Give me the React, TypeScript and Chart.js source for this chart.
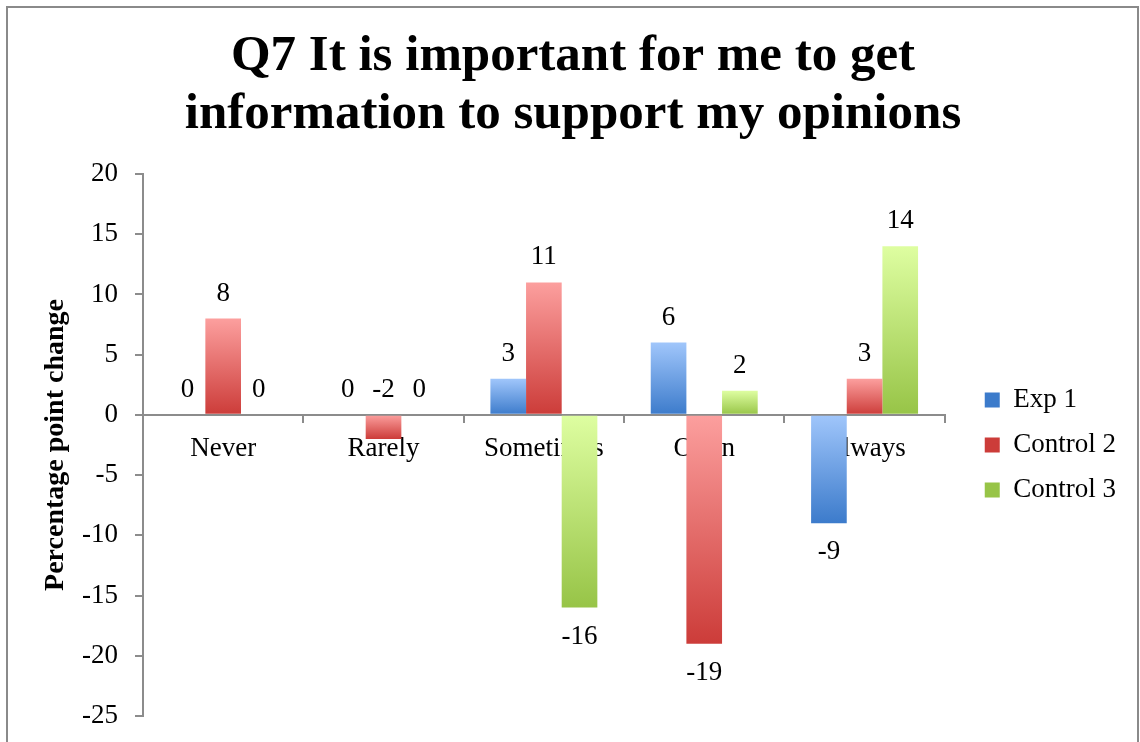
import React, { useEffect, useRef } from "react";
import { Chart, registerables } from "chart.js";

Chart.register(...registerables);

const TITLE_LINES = ["Q7 It is important for me to get", "information to support my opinions"];
const CATEGORIES = ["Never", "Rarely", "Sometimes", "Often", "Always"];
const SERIES_NAMES = ["Exp 1", "Control 2", "Control 3"];
const EXP1 = [0, 0, 3, 6, -9];
const CONTROL2 = [8, -2, 11, -19, 3];
const CONTROL3 = [0, 0, -16, 2, 14];
const Y_MIN = -25;
const Y_MAX = 20;
const Y_STEP = 5;
const Y_TITLE = "Percentage point change";

const FONT = "'Liberation Serif', 'Times New Roman', serif";
const AXIS_GREY = "#8c8c8c";
const TEXT_SIZE = 27;

const COLORS = [
  { light: "#a0c6fb", mid: "#6c9fe2", dark: "#3c7bcb" },
  { light: "#fc9f9e", mid: "#e4716f", dark: "#cc3c39" },
  { light: "#defea1", mid: "#bfe177", dark: "#97c447" },
];

function gradientFill(idx: number) {
  return (ctx: any) => {
    const c = COLORS[idx];
    if (ctx.type !== "data") return c.mid;
    const chart = ctx.chart;
    const yScale = chart.scales?.y;
    if (!chart.chartArea || !yScale) return c.mid;
    const v = ctx.parsed ? ctx.parsed.y : ctx.raw;
    const p0 = yScale.getPixelForValue(0);
    const p1 = yScale.getPixelForValue(v);
    const top = Math.min(p0, p1);
    const bot = Math.max(p0, p1);
    if (!isFinite(top) || !isFinite(bot) || bot - top < 1) return c.dark;
    const g = chart.ctx.createLinearGradient(0, top, 0, bot);
    g.addColorStop(0, c.light);
    g.addColorStop(1, c.dark);
    return g;
  };
}

const framePlugin = {
  id: "frame",
  beforeDraw(chart: any) {
    const ctx = chart.ctx;
    ctx.save();
    ctx.fillStyle = "#ffffff";
    ctx.fillRect(0, 0, chart.width, chart.height);
    ctx.strokeStyle = "#8a8a8a";
    ctx.lineWidth = 2;
    ctx.strokeRect(7, 7, chart.width - 9, chart.height + 40);
    ctx.restore();
  },
};

const valueLabelPlugin = {
  id: "valueLabels",
  afterDatasetsDraw(chart: any) {
    const ctx = chart.ctx;
    const zeroY = chart.scales.y.getPixelForValue(0);
    ctx.save();
    ctx.font = `${TEXT_SIZE}px ${FONT}`;
    ctx.fillStyle = "#000000";
    ctx.textAlign = "center";
    ctx.textBaseline = "middle";
    chart.data.datasets.forEach((ds: any, di: number) => {
      const meta = chart.getDatasetMeta(di);
      meta.data.forEach((el: any, i: number) => {
        const v = ds.data[i] as number;
        let y: number;
        if (v >= 0) {
          y = el.y - 25;
        } else if (el.y - zeroY < 45) {
          // short negative bar: label would collide with the category label, keep it above the axis
          y = zeroY - 25;
        } else {
          y = el.y + 29;
        }
        ctx.fillText(String(v), el.x, y);
      });
    });
    ctx.restore();
  },
};

export default function App() {
  const ref = useRef<HTMLCanvasElement | null>(null);

  useEffect(() => {
    document.body.style.margin = "0";
    if (!ref.current) return;
    const seriesData = [EXP1, CONTROL2, CONTROL3];
    const chart = new Chart(ref.current, {
      type: "bar",
      data: {
        labels: CATEGORIES,
        datasets: SERIES_NAMES.map((name, i) => ({
          label: name,
          data: seriesData[i],
          backgroundColor: gradientFill(i) as any,
          borderWidth: 0,
          categoryPercentage: 0.667,
          barPercentage: 1,
        })),
      },
      options: {
        animation: false,
        responsive: false,
        devicePixelRatio: 1,
        layout: { padding: { left: 20, right: 14, top: 0, bottom: 26 } },
        plugins: {
          title: {
            display: true,
            text: TITLE_LINES,
            color: "#000000",
            font: { family: FONT, size: 51, weight: "bold", lineHeight: 1.137 },
            padding: { top: 28, bottom: 30 },
          },
          legend: {
            display: true,
            position: "right",
            fullSize: false,
            labels: {
              color: "#000000",
              font: { family: FONT, size: TEXT_SIZE },
              boxWidth: 15,
              boxHeight: 15,
              padding: 18,
            },
          },
          tooltip: { enabled: false },
        },
        scales: {
          x: {
            type: "category",
            position: { y: 0 } as any,
            offset: true,
            grid: {
              display: true,
              offset: true,
              drawOnChartArea: false,
              drawTicks: true,
              tickLength: 7,
              color: AXIS_GREY,
              lineWidth: 2,
            },
            border: { display: true, color: AXIS_GREY, width: 2 },
            ticks: {
              color: "#000000",
              font: { family: FONT, size: TEXT_SIZE },
              padding: 11,
              maxRotation: 0,
              autoSkip: false,
            },
          },
          y: {
            type: "linear",
            position: "left",
            min: Y_MIN,
            max: Y_MAX,
            ticks: {
              stepSize: Y_STEP,
              color: "#000000",
              font: { family: FONT, size: TEXT_SIZE, lineHeight: 0.5 },
              padding: 17,
            },
            grid: {
              display: true,
              drawOnChartArea: false,
              drawTicks: true,
              tickLength: 8,
              color: AXIS_GREY,
              lineWidth: 2,
            },
            border: { display: true, color: AXIS_GREY, width: 2 },
            title: {
              display: true,
              text: Y_TITLE,
              color: "#000000",
              font: { family: FONT, size: 28, weight: "bold", lineHeight: 1.2 },
              padding: { top: 19, bottom: 0 },
            },
            afterFit: (scale: any) => {
              scale.width = 123;
            },
          },
          spacer: {
            type: "linear",
            position: "right",
            display: true,
            ticks: { display: false },
            grid: { display: false },
            border: { display: false },
            afterFit: (scale: any) => {
              scale.width = 22;
            },
          },
        },
      },
      plugins: [framePlugin, valueLabelPlugin],
    } as any);
    return () => chart.destroy();
  }, []);

  return (
    <div style={{ width: 1140, height: 742 }}>
      <canvas ref={ref} width={1140} height={742} style={{ display: "block", width: 1140, height: 742 }} />
    </div>
  );
}
